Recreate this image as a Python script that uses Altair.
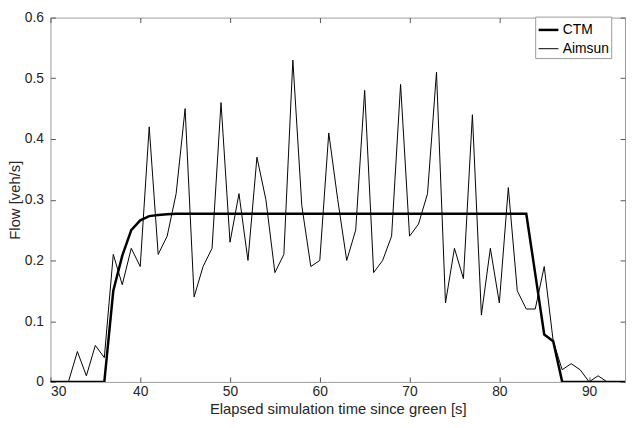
import altair as alt
import pandas as pd

time_s = list(range(30, 95))
aimsun = [0, 0, 0, 0.05, 0.01, 0.06, 0.04, 0.21, 0.16, 0.22,
          0.19, 0.42, 0.21, 0.24, 0.31, 0.45, 0.14, 0.19, 0.22, 0.46,
          0.23, 0.31, 0.20, 0.37, 0.30, 0.18, 0.21, 0.53, 0.29, 0.19,
          0.20, 0.41, 0.30, 0.20, 0.25, 0.48, 0.18, 0.20, 0.24, 0.49,
          0.24, 0.26, 0.31, 0.51, 0.13, 0.22, 0.17, 0.44, 0.11, 0.22,
          0.13, 0.32, 0.15, 0.12, 0.12, 0.19, 0.067, 0.02, 0.03, 0.02,
          0.0, 0.01, 0, 0, 0]
ctm = [0, 0, 0, 0, 0, 0, 0, 0.15, 0.208, 0.25,
       0.266, 0.273, 0.275, 0.276, 0.277, 0.277, 0.277, 0.277, 0.277, 0.277,
       0.277, 0.277, 0.277, 0.277, 0.277, 0.277, 0.277, 0.277, 0.277, 0.277,
       0.277, 0.277, 0.277, 0.277, 0.277, 0.277, 0.277, 0.277, 0.277, 0.277,
       0.277, 0.277, 0.277, 0.277, 0.277, 0.277, 0.277, 0.277, 0.277, 0.277,
       0.277, 0.277, 0.277, 0.277, 0.178, 0.078, 0.067, 0, 0, 0,
       0, 0, 0, 0, 0]
series_names = ["CTM", "Aimsun"]
x_ticks = [30, 40, 50, 60, 70, 80, 90]
y_ticks = [0, 0.1, 0.2, 0.3, 0.4, 0.5, 0.6]

df = pd.concat([
    pd.DataFrame({"t": time_s, "flow": ctm, "series": "CTM"}),
    pd.DataFrame({"t": time_s, "flow": aimsun, "series": "Aimsun"}),
])

W, H = 582, 369
PAD_L, PAD_T = 43, 7
FONT = "Liberation Sans"
xdom = [30, 94]
ydom = [0, 0.6]
FRAME_COLOR = "#9a9a9a"

def xs(axis):
    return alt.X("t:Q", scale=alt.Scale(domain=xdom, nice=False, zero=False), axis=axis)

def ys(axis):
    return alt.Y("flow:Q", scale=alt.Scale(domain=ydom, nice=False), axis=axis)

main = alt.Chart(df).mark_line(clip=True).encode(
    x=xs(alt.Axis(orient="bottom", values=x_ticks, tickSize=0,
                  title="Elapsed simulation time since green [s]", labelPadding=3,
                  titlePadding=3, domain=False)),
    y=ys(alt.Axis(orient="left", values=y_ticks, tickSize=0,
                  title="Flow [veh/s]", labelPadding=7, titlePadding=2, domain=False,
                  format=".1~f")),
    color=alt.Color("series:N", scale=alt.Scale(domain=series_names, range=["black", "black"]),
                    legend=alt.Legend(title=None, orient="none", legendX=491, legendY=-1,
                                      symbolType="stroke", symbolSize=400,
                                      fillColor="white", strokeColor="#999999",
                                      padding=2, labelFontSize=14, labelFont=FONT,
                                      labelColor="black", rowPadding=1, labelOffset=3)),
    strokeWidth=alt.StrokeWidth("series:N", scale=alt.Scale(domain=series_names, range=[2.5, 1.0]),
                                legend=alt.Legend(title=None, orient="none", legendX=491, legendY=-1)),
)

tick_axis = dict(labels=False, title=None, tickSize=5, domain=False, tickColor="#555555")

ticks_bottom = alt.Chart(df).mark_line(opacity=0).encode(
    x=xs(alt.Axis(orient="top", offset=-H, values=x_ticks, **tick_axis)),
    y=ys(alt.Axis(orient="right", offset=-W, values=y_ticks, **tick_axis)),
    detail="series:N",
)
ticks_top = alt.Chart(df).mark_line(opacity=0).encode(
    x=xs(alt.Axis(orient="bottom", offset=-H, values=x_ticks, **tick_axis)),
    y=ys(alt.Axis(orient="left", offset=-W, values=y_ticks, **tick_axis)),
    detail="series:N",
)

chart = alt.layer(main, ticks_bottom, ticks_top).resolve_scale(
    x="independent", y="independent"
).properties(
    width=W, height=H,
    autosize=alt.AutoSizeParams(type="none"),
    padding={"left": PAD_L, "top": PAD_T, "right": 2, "bottom": 44},
).configure_view(
    stroke=FRAME_COLOR, strokeWidth=1
).configure_axis(
    labelFont=FONT, titleFont=FONT, labelFontSize=14, titleFontSize=15,
    labelColor="#262626", titleColor="#262626", titleFontWeight="normal", grid=False,
)

chart.save("out.html", embed_options={"renderer": "svg", "actions": False})
